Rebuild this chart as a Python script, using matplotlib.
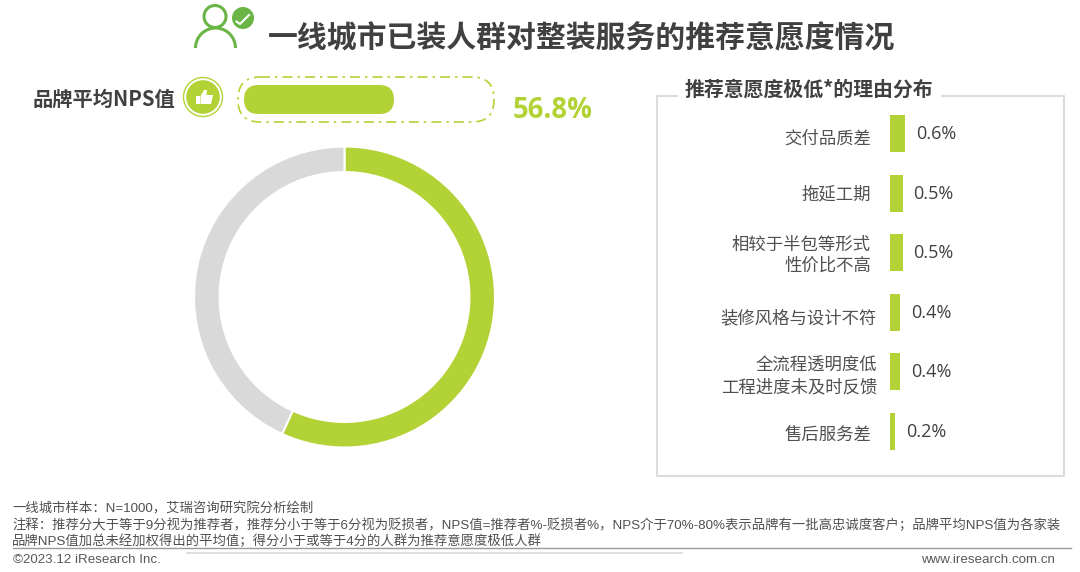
#! /usr/bin/env python3

import matplotlib
matplotlib.use("Agg")
import matplotlib.pyplot as plt
from matplotlib.patches import Circle, Arc, FancyBboxPatch, Polygon, Rectangle

plt.rcParams['font.family'] = ['Noto Sans CJK SC', 'DejaVu Sans']

W, H = 1080, 572
GREEN = '#b2d235'
ICON_GREEN = '#6ab545'
RING_GRAY = '#d9d9d9'
TEXT = '#404040'

title = '一线城市已装人群对整装服务的推荐意愿度情况'
nps_label = '品牌平均NPS值'
nps_value = 56.8
donut_values = [56.8, 43.2]
panel_title = '推荐意愿度极低*的理由分布'
reasons = ['交付品质差', '拖延工期', '相较于半包等形式\n性价比不高', '装修风格与设计不符',
           '全流程透明度低\n工程进度未及时反馈', '售后服务差']
reason_values = [0.6, 0.5, 0.5, 0.4, 0.4, 0.2]
reason_text_right = [871, 871, 871, 877, 877, 871]
reason_text_shift = [4.5, 1.5, 2.5, 5.5, 4.5, 3]
source_lines = ['一线城市样本：N=1000，艾瑞咨询研究院分析绘制',
                '注释：推荐分大于等于9分视为推荐者，推荐分小于等于6分视为贬损者，NPS值=推荐者%-贬损者%，NPS介于70%-80%表示品牌有一批高忠诚度客户；品牌平均NPS值为各家装',
                '品牌NPS值加总未经加权得出的平均值；得分小于或等于4分的人群为推荐意愿度极低人群']
copyright_text = '©2023.12 iResearch Inc.'
site_text = 'www.iresearch.com.cn'


# axes rectangle given in pixels from the top left corner
def px_axes(fig, left, top, right, bottom):
	return fig.add_axes([left / W, 1 - bottom / H, (right - left) / W, (bottom - top) / H])


fig = plt.figure(figsize=(W / 100, H / 100), dpi=100, facecolor='white')

# overlay in pixel coordinates for text and decoration
bg = fig.add_axes([0, 0, 1, 1])
bg.set_xlim(0, W)
bg.set_ylim(H, 0)
bg.axis('off')

# person icon
bg.add_patch(Circle((215, 16.5), 11, fill=False, ec=ICON_GREEN, lw=2.2))
bg.add_patch(Arc((215.5, 48), 40, 40, theta1=180, theta2=360, ec=ICON_GREEN, lw=2.2))
bg.add_patch(Circle((243, 18), 11, fc=ICON_GREEN, ec='none'))
bg.plot([236.5, 240, 249], [21.5, 24, 15], color='white', lw=1.5)
bg.text(268, 38, title, fontsize=21.5, fontweight='bold', color=TEXT, ha='left', va='center')

# brand NPS row
bg.text(33, 99, nps_label, fontsize=14.6, fontweight='bold', color=TEXT, ha='left', va='center')
bg.add_patch(Circle((203, 97), 19.5, fill=False, ec=GREEN, lw=1))
bg.add_patch(Circle((203, 97), 16.8, fc=GREEN, ec='none'))
bg.add_patch(Rectangle((196, 96), 3.5, 8, fc='white', ec='none'))
bg.add_patch(Polygon([(200.5, 96), (204, 90), (207, 90), (206.5, 95), (213, 95), (211, 104), (200.5, 104)],
                     fc='white', ec='none'))

bg.add_patch(FancyBboxPatch((238, 77), 256, 45, boxstyle='round,pad=0,rounding_size=22',
                            fill=False, ec=GREEN, lw=1.2, ls=(0, (6, 3, 1.5, 3))))
bar_w = nps_value * 2.64
bg.add_patch(FancyBboxPatch((244, 85), bar_w, 29, boxstyle='round,pad=0,rounding_size=14.5',
                            fc=GREEN, ec='none'))
bg.text(513, 110, f'{nps_value}%', fontsize=19.8, fontweight='bold', color=GREEN,
        family=['Open Sans', 'DejaVu Sans'], ha='left', va='center')

# donut
ax_donut = px_axes(fig, 194, 146, 495, 448)
ax_donut.pie(donut_values, colors=[GREEN, RING_GRAY], startangle=90, counterclock=False, radius=1,
             wedgeprops=dict(width=0.17, edgecolor='white', linewidth=1.5))
ax_donut.set_xlim(-1, 1)
ax_donut.set_ylim(-1, 1)

# reasons panel
bg.plot([677, 657, 657, 1064, 1064, 942], [95.5, 95.5, 476, 476, 95.5, 95.5], color='#dcdcdc', lw=1.5)
bg.text(685, 89, panel_title, fontsize=14.35, fontweight='bold', color=TEXT, ha='left', va='center')

ax_bar = px_axes(fig, 890, 104, 1040, 461)
y_pos = list(range(len(reasons)))
ax_bar.barh(y_pos, reason_values, height=0.63, color=GREEN)
ax_bar.set_xlim(0, 6)
ax_bar.set_ylim(5.5, -0.5)
ax_bar.axis('off')
for i, v in enumerate(reason_values):
	ax_bar.annotate(f'{v}%', (v, i), xytext=(8, -0.5), textcoords='offset points', fontsize=13,
	                color=TEXT, family=['Open Sans', 'DejaVu Sans'], ha='left', va='center')
	bar_center = 133.7 + i * 59.6
	bg.text(reason_text_right[i], bar_center + reason_text_shift[i], reasons[i], fontsize=12.5, color='#505050',
	        ha='right', va='center', linespacing=1.2, multialignment='right')

# footer
for line, y in zip(source_lines, [509, 525, 541]):
	bg.text(12, y, line, fontsize=9.6, color='#505050', family=['Liberation Sans', 'Noto Sans CJK SC'],
	        ha='left', va='center')
bg.plot([13, 1071], [547.5, 547.5], color='#999999', lw=1)
bg.plot([187, 682], [552.7, 552.7], color='#d9d9d9', lw=1.2)
bg.text(13, 560, copyright_text, fontsize=9.6, color='#595959', family=['Liberation Sans'], ha='left', va='center')
bg.text(1055, 560, site_text, fontsize=9.6, color='#595959', family=['Liberation Sans'], ha='right', va='center')

fig.savefig('out.png', dpi=100)
